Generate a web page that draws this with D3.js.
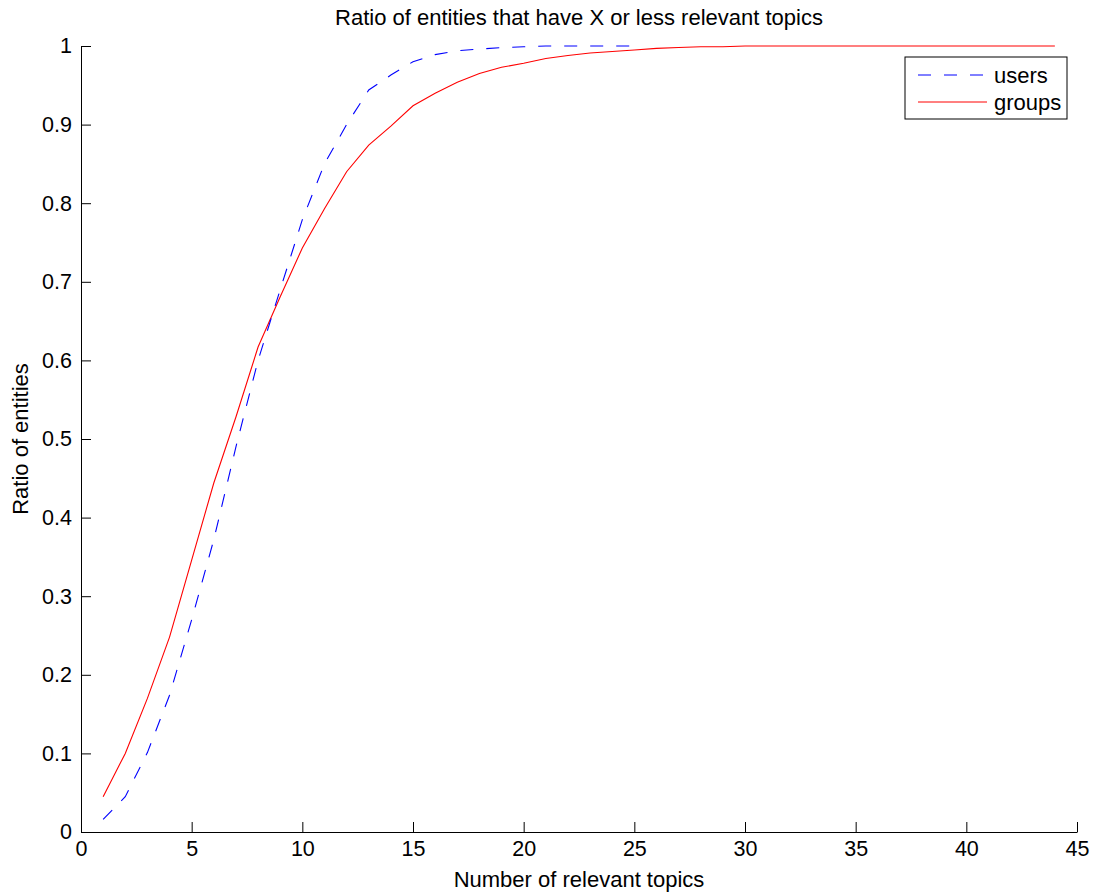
<!DOCTYPE html>
<html>
<head>
<meta charset="utf-8">
<script src="https://cdn.jsdelivr.net/npm/d3@7"></script>
<style>
  body { margin: 0; background: #fff; }
  text { font-family: "Liberation Sans", Arial, sans-serif; fill: #000; }
</style>
</head>
<body>
<svg id="chart" width="1096" height="894"></svg>
<script>
const topics = d3.range(1, 45);

const users = [
  0.016, 0.045, 0.101, 0.174, 0.27, 0.372, 0.49, 0.60, 0.69, 0.779,
  0.85, 0.90, 0.944, 0.963, 0.980, 0.989, 0.994, 0.996, 0.998, 0.999,
  1.0, 1.0, 1.0, 1.0, 1.0,
];

const groups = [
  0.045, 0.100, 0.170, 0.248, 0.346, 0.444, 0.528, 0.617, 0.681, 0.743,
  0.793, 0.840, 0.874, 0.898, 0.924, 0.940, 0.954, 0.965, 0.973, 0.978,
  0.984, 0.988, 0.991, 0.993, 0.995, 0.997, 0.998, 0.999, 0.999, 1.0,
  1.0, 1.0, 1.0, 1.0, 1.0, 1.0, 1.0, 1.0, 1.0, 1.0,
  1.0, 1.0, 1.0, 1.0,
];

const xTicks = [0, 5, 10, 15, 20, 25, 30, 35, 40, 45];
const yTicks = [0, 0.1, 0.2, 0.3, 0.4, 0.5, 0.6, 0.7, 0.8, 0.9, 1];

const svg = d3.select('#chart');
const plot = {left: 81, right: 1077, top: 46, bottom: 832};

const x = d3.scaleLinear().domain([0, 45]).range([plot.left, plot.right]);
const y = d3.scaleLinear().domain([0, 1]).range([plot.bottom, plot.top]);

// bottom axis, ticks pointing into the plot
const xAxis = svg.append('g')
    .attr('transform', `translate(0,${plot.bottom})`)
    .call(d3.axisBottom(x).tickValues(xTicks).tickSize(0).tickPadding(9)
        .tickFormat(d3.format('d')));
xAxis.select('.domain').attr('stroke', '#000');
xAxis.selectAll('.tick').append('line')
    .attr('y2', -10).attr('stroke', '#000');
xAxis.selectAll('text').style('font-size', '21.5px').attr('dy', '0.71em');

const yAxis = svg.append('g')
    .attr('transform', `translate(${plot.left},0)`)
    .call(d3.axisLeft(y).tickValues(yTicks).tickSize(0).tickPadding(9)
        .tickFormat((d) => d === 0 || d === 1 ? d : d3.format('.1f')(d)));
yAxis.select('.domain').attr('stroke', '#000');
yAxis.selectAll('.tick').append('line')
    .attr('x2', 10).attr('stroke', '#000');
yAxis.selectAll('text').style('font-size', '21.5px');

const line = d3.line()
    .x((d, i) => x(topics[i]))
    .y((d) => y(d));

svg.append('path')
    .datum(groups)
    .attr('d', line)
    .attr('fill', 'none')
    .attr('stroke', '#ff0000')
    .attr('stroke-width', 1.1);

svg.append('path')
    .datum(users)
    .attr('d', line)
    .attr('fill', 'none')
    .attr('stroke', '#0000ff')
    .attr('stroke-width', 1.1)
    .attr('stroke-dasharray', '13,13');

// title and labels
svg.append('text')
    .attr('x', (plot.left + plot.right) / 2)
    .attr('y', 25)
    .attr('text-anchor', 'middle')
    .style('font-size', '22px')
    .text('Ratio of entities that have X or less relevant topics');

svg.append('text')
    .attr('x', (plot.left + plot.right) / 2)
    .attr('y', 887)
    .attr('text-anchor', 'middle')
    .style('font-size', '22px')
    .text('Number of relevant topics');

svg.append('text')
    .attr('transform', `translate(28,${(plot.top + plot.bottom) / 2}) rotate(-90)`)
    .attr('text-anchor', 'middle')
    .style('font-size', '22px')
    .text('Ratio of entities');

// legend
const legend = svg.append('g').attr('transform', 'translate(905,57)');
legend.append('rect')
    .attr('width', 162).attr('height', 62)
    .attr('fill', '#fff').attr('stroke', '#000');
const items = [
  {name: 'users', color: '#0000ff', dash: '13,13'},
  {name: 'groups', color: '#ff0000', dash: null},
];
items.forEach((it, i) => {
  const ly = 18 + i * 27;
  legend.append('line')
      .attr('x1', 13).attr('x2', 82)
      .attr('y1', ly).attr('y2', ly)
      .attr('stroke', it.color)
      .attr('stroke-dasharray', it.dash);
  legend.append('text')
      .attr('x', 89).attr('y', ly)
      .attr('dy', '0.35em')
      .style('font-size', '22px')
      .text(it.name);
});
</script>
</body>
</html>
